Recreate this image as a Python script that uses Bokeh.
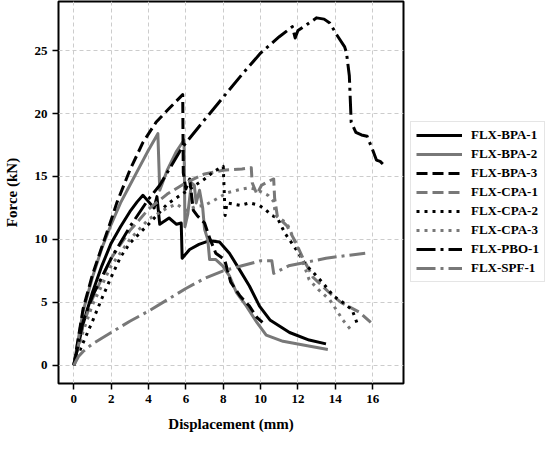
from bokeh.plotting import figure
from bokeh.models import Legend, LegendItem, FixedTicker, Range1d
from bokeh.layouts import row
from bokeh.embed import file_html
from bokeh.resources import INLINE

# ---- data ----
bpa1_x = [0, 0.5, 1, 1.5, 2, 2.5, 3, 3.4, 3.7, 4.0, 4.3, 4.45, 4.6, 5.1, 5.5, 5.75, 5.8, 6.2, 6.7, 7.27, 7.8, 8.33, 8.87, 9.4, 9.94, 10.5, 11.55, 12.6, 13.5]
bpa1_y = [0, 3.3, 5.8, 7.9, 9.7, 11.0, 12.2, 13.0, 13.5, 13.0, 12.5, 13.4, 11.2, 11.7, 11.2, 11.3, 8.5, 9.2, 9.6, 9.9, 9.8, 8.9, 7.6, 6.3, 4.7, 3.6, 2.6, 2.0, 1.7]

bpa2_x = [0, 0.5, 1, 1.5, 2, 2.5, 3, 3.5, 4, 4.5, 4.6, 5.0, 5.5, 5.9, 5.95, 6.1, 6.3, 6.45, 6.55, 6.73, 6.9, 7.0, 7.17, 7.27, 7.6, 7.97, 8.33, 8.7, 9.24, 9.8, 10.3, 11.2, 12.5, 13.6]
bpa2_y = [0, 4.3, 7.0, 9.3, 11.2, 12.9, 14.3, 15.7, 17.1, 18.4, 13.9, 15.5, 17.0, 17.9, 11.0, 12.0, 14.5, 14.3, 12.9, 13.9, 12.5, 10.8, 10.0, 8.4, 8.4, 7.9, 7.1, 5.8, 4.7, 3.4, 2.4, 1.9, 1.55, 1.25]

bpa3_x = [0, 0.5, 1, 1.5, 1.9, 2.3, 3, 3.7, 4.4, 5.1, 5.83, 5.86, 6.0, 6.2, 6.4, 6.6, 7.0, 7.3, 7.6, 8.07, 8.4, 8.9, 9.4, 9.8, 10.1]
bpa3_y = [0, 4.5, 7.2, 9.4, 11.1, 12.9, 15.5, 17.7, 19.3, 20.4, 21.5, 15.3, 14.0, 14.8, 12.3, 11.9, 11.3, 10.0, 8.9, 8.4, 6.6, 5.5, 4.7, 3.8, 3.4]

cpa1_x = [0, 0.5, 1, 2, 3, 4, 5, 6, 7, 8, 9, 9.5, 9.55, 9.8, 10.05, 10.4, 10.7, 10.75, 10.9, 11.4, 11.9, 12.3, 12.8, 13.3, 13.8, 14.3, 14.8, 15.3, 15.9]
cpa1_y = [0, 3.2, 5.3, 8.5, 10.7, 12.4, 13.6, 14.5, 15.2, 15.5, 15.6, 15.7, 14.5, 13.6, 14.3, 14.6, 14.8, 13.3, 11.8, 11.1, 9.7, 8.4, 7.0, 6.3, 5.6, 5.0, 4.6, 4.2, 3.4]

cpa2_x = [0, 0.5, 1, 1.5, 2, 2.5, 3, 4, 5, 6, 7, 7.5, 8.0, 8.1, 8.2, 8.9, 9.4, 9.94, 10.3, 10.6, 10.9, 11.3, 11.9, 12.4, 12.8, 13.3, 13.9, 14.4, 14.9, 15.2]
cpa2_y = [0, 1.8, 3.5, 5.3, 7.0, 8.6, 9.7, 11.2, 12.8, 13.8, 14.8, 15.4, 15.8, 11.9, 12.9, 12.7, 12.9, 12.7, 12.3, 11.9, 11.7, 10.5, 9.2, 8.0, 7.4, 6.6, 5.5, 5.0, 4.4, 3.2]

cpa3_x = [0, 0.5, 1, 2, 3, 4, 5, 5.5, 6, 6.5, 7, 7.5, 8.2, 9.0, 9.4, 9.7, 10.0, 10.4, 10.7, 10.8, 11.4, 11.7, 12.1, 12.6, 13.1, 13.7, 14.1, 14.4, 14.9]
cpa3_y = [0, 2.7, 4.8, 7.9, 10.0, 11.6, 12.5, 12.8, 12.3, 12.6, 12.7, 13.1, 13.7, 14.0, 14.1, 14.0, 13.8, 13.5, 13.0, 11.9, 11.3, 10.3, 8.9, 6.8, 6.0, 5.2, 4.3, 3.6, 2.7]

pbo1_x = [0, 0.5, 1, 2, 3, 4, 4.6, 5.8, 7, 8, 9, 10, 11, 11.7, 11.85, 12.0, 12.5, 13.0, 13.4, 13.7, 14.1, 14.5, 14.6, 14.75, 14.85, 15.1, 15.4, 15.7, 16.0, 16.2, 16.4, 16.6]
pbo1_y = [0, 3.5, 5.5, 8.5, 11.0, 13.2, 14.3, 17.3, 19.5, 21.3, 23.1, 24.8, 26.1, 26.9, 26.0, 26.6, 27.1, 27.6, 27.5, 27.2, 26.2, 25.3, 24.8, 23.0, 19.3, 18.5, 18.3, 18.2, 17.1, 16.3, 16.2, 15.9]

spf1_x = [0, 0.25, 0.5, 1, 2, 3, 4, 5, 6, 7, 8, 9, 10, 10.6, 10.7, 11.5, 12.5, 13.5, 14.5, 15.6]
spf1_y = [0, 0.7, 1.1, 1.7, 2.6, 3.5, 4.3, 5.2, 6.1, 6.9, 7.5, 7.9, 8.3, 8.3, 7.3, 7.9, 8.2, 8.5, 8.7, 8.9]

names = ["FLX-BPA-1", "FLX-BPA-2", "FLX-BPA-3", "FLX-CPA-1", "FLX-CPA-2", "FLX-CPA-3", "FLX-PBO-1", "FLX-SPF-1"]
x_ticks = [0, 2, 4, 6, 8, 10, 12, 14, 16]
y_ticks = [0, 5, 10, 15, 20, 25]

BLACK = "#000000"
GRAY = "#787878"
styles = [
    (BLACK, "solid"),
    (GRAY, "solid"),
    (BLACK, "11 5"),
    (GRAY, "11 5"),
    (BLACK, "3 5"),
    (GRAY, "3 5"),
    (BLACK, "19 5 3 5"),
    (GRAY, "19 5 3 5"),
]
series = [(bpa1_x, bpa1_y), (bpa2_x, bpa2_y), (bpa3_x, bpa3_y), (cpa1_x, cpa1_y),
          (cpa2_x, cpa2_y), (cpa3_x, cpa3_y), (pbo1_x, pbo1_y), (spf1_x, spf1_y)]

FONT = "Liberation Serif"

p = figure(frame_width=345, frame_height=382, output_backend="svg", toolbar_location=None,
           x_range=Range1d(-0.82, 17.65), y_range=Range1d(-1.45, 28.9),
           min_border_left=51, min_border_top=1, min_border_bottom=10, min_border_right=2)
p.background_fill_color = "white"
p.border_fill_color = "white"
p.outline_line_color = "black"
p.outline_line_width = 2

for ax in (p.xaxis[0], p.yaxis[0]):
    ax.axis_line_color = None
    ax.major_tick_line_color = "black"
    ax.major_tick_line_width = 1.5
    ax.major_tick_out = 6
    ax.major_tick_in = 0
    ax.minor_tick_line_color = None
    ax.major_label_text_font = FONT
    ax.major_label_text_font_style = "bold"
    ax.major_label_text_font_size = "13px"
    ax.major_label_text_color = "black"
    ax.axis_label_text_font = FONT
    ax.axis_label_text_font_style = "bold"
    ax.axis_label_text_font_size = "15px"
    ax.axis_label_text_color = "black"

p.xaxis.ticker = FixedTicker(ticks=x_ticks)
p.yaxis.ticker = FixedTicker(ticks=y_ticks)
p.xaxis.axis_label = "Displacement (mm)"
p.yaxis.axis_label = "Force (kN)"
p.xaxis.major_label_standoff = 5
p.xaxis.axis_label_standoff = 10
p.yaxis.major_label_standoff = 5
p.yaxis.axis_label_standoff = 12

for g in (p.xgrid[0], p.ygrid[0]):
    g.grid_line_color = "#cccccc"
    g.grid_line_dash = "4 3"
    g.grid_line_width = 1
p.xgrid.ticker = FixedTicker(ticks=x_ticks)
p.ygrid.ticker = FixedTicker(ticks=y_ticks)

for (xs, ys), (col, dash) in zip(series, styles):
    p.line(xs, ys, line_color=col, line_width=3, line_dash=dash, line_join="round")

# legend lives in a small side figure; its proxy lines use the same data but
# its ranges are placed so that none of them show inside it
lg = figure(width=140, height=433, output_backend="svg", toolbar_location=None,
            x_range=Range1d(100, 101), y_range=Range1d(100, 101),
            x_axis_location=None, y_axis_location=None,
            min_border_left=0, min_border_right=0, min_border_top=0, min_border_bottom=0)
lg.outline_line_color = None
lg.xgrid.visible = False
lg.ygrid.visible = False
lg.background_fill_color = "white"
lg.border_fill_color = "white"

items = []
for name, (xs, ys), (col, dash) in zip(names, series, styles):
    r = lg.line(xs, ys, line_color=col, line_width=3, line_dash=dash)
    items.append(LegendItem(label=name, renderers=[r]))

legend = Legend(items=items, location=(5, 100))
legend.label_text_font = FONT
legend.label_text_font_style = "bold"
legend.label_text_font_size = "13px"
legend.label_text_color = "black"
legend.glyph_width = 46
legend.glyph_height = 16
legend.label_height = 16
legend.label_standoff = 9
legend.padding = 5
legend.spacing = 3
legend.margin = 0
legend.border_line_color = "#cccccc"
legend.border_line_width = 1
legend.background_fill_color = "white"
lg.add_layout(legend, "center")

open("out.html", "w").write(file_html(row(p, lg), INLINE))
